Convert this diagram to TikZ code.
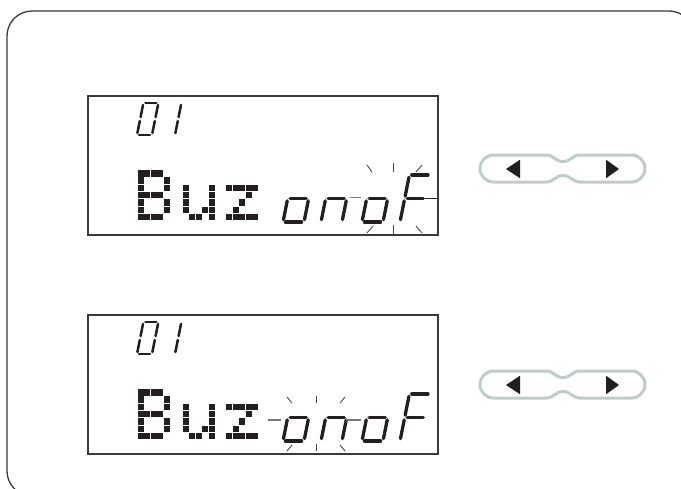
\documentclass[tikz,border=0pt]{standalone}
\definecolor{lcdblack}{HTML}{231F20}
\definecolor{framecol}{HTML}{3A3A3A}
\definecolor{pillcol}{HTML}{BFCCCA}
\definecolor{dashgray}{HTML}{7A7A7A}
\definecolor{raygray}{HTML}{4A4A4A}
\tikzset{
  seg/.style={draw=lcdblack, line width=3.3pt, line cap=round, shorten <=2.4pt, shorten >=2.4pt},
  segsmall/.style={draw=lcdblack, line width=2.5pt, line cap=round, shorten <=2pt, shorten >=2pt},
  boxline/.style={draw=framecol, line width=1.5pt},
  outerline/.style={draw=framecol, line width=1.3pt},
  ray/.style={draw=raygray, line width=0.9pt},
  dashline/.style={draw=dashgray, line width=1.3pt},
  pilline/.style={draw=pillcol, line width=3pt},
  arrowtri/.style={fill=lcdblack},
}
% seven-segment digit
\newcommand{\digitpos}[4]{%
  \coordinate (d00) at (#1,#2);
  \coordinate (d10) at ({#1+#3},#2);
  \coordinate (d01) at ({#1+0.1*#4},{#2-0.5*#4});
  \coordinate (d11) at ({#1+#3+0.1*#4},{#2-0.5*#4});
  \coordinate (d02) at ({#1+0.2*#4},{#2-#4});
  \coordinate (d12) at ({#1+#3+0.2*#4},{#2-#4});
}
\newcommand{\lsega}[1]{\draw[#1] (d02) -- (d12);}
\newcommand{\lsegb}[1]{\draw[#1] (d12) -- (d11);}
\newcommand{\lsegc}[1]{\draw[#1] (d11) -- (d10);}
\newcommand{\lsegd}[1]{\draw[#1] (d00) -- (d10);}
\newcommand{\lsege}[1]{\draw[#1] (d00) -- (d01);}
\newcommand{\lsegf}[1]{\draw[#1] (d01) -- (d02);}
\newcommand{\lsegg}[1]{\draw[#1] (d01) -- (d11);}
\newcommand{\lcddigit}[6]{%
  \digitpos{#1}{#2}{#3}{#4}%
  \foreach \s in {#6}{\csname lseg\s\endcsname{#5}}%
}
% dot-matrix character
\newcommand{\dotchar}[3]{%
  \foreach \c/\r in #3 {\fill[lcdblack] ({#1+\c*6.6},{#2+\r*7.3}) rectangle ++(6.0,6.5);}%
}
\newcommand{\Bcells}{0/0,1/0,2/0,3/0,0/1,4/1,0/2,4/2,0/3,1/3,2/3,3/3,0/4,4/4,0/5,4/5,0/6,1/6,2/6,3/6}
\newcommand{\ucells}{0/2,4/2,0/3,4/3,0/4,4/4,0/5,3/5,4/5,1/6,2/6,4/6}
\newcommand{\zcells}{0/2,1/2,2/2,3/2,4/2,3/3,2/4,1/5,0/6,1/6,2/6,3/6,4/6}
\newcommand{\pillshape}{%
  \draw[pilline] (493.5,155) -- (546,155)
    .. controls (554,155) and (555,161.5) .. (563,161.5)
    .. controls (571,161.5) and (572,155) .. (580,155)
    -- (631.5,155) arc[start angle=-90, end angle=90, radius=13.5]
    -- (580,182)
    .. controls (572,182) and (571,175.5) .. (563,175.5)
    .. controls (555,175.5) and (554,182) .. (546,182)
    -- (493.5,182) arc[start angle=90, end angle=270, radius=13.5] -- cycle;
  \fill[arrowtri] (506,169) -- (520,159.7) -- (520,178.3) -- cycle;
  \fill[arrowtri] (619,169) -- (606,159.7) -- (606,178.3) -- cycle;
}
\begin{document}
\begin{tikzpicture}[x=1pt,y=-1pt]
\useasboundingbox (0,0) rectangle (681,488);
\clip (0,0) rectangle (681,488);
\fill[white] (0,0) rectangle (681,488);
% outer frame
\draw[outerline, rounded corners=25pt] (7,11) rectangle (694,496);

% ---------- display 1 ----------
\draw[boxline] (88,96) rectangle (438,235);
\lcddigit{137}{135}{15}{32}{segsmall}{a,b,c,d,e,f}
\lcddigit{160}{135}{15}{32}{segsmall}{b,c}
\dotchar{137.5}{170}{\Bcells}
\dotchar{182.5}{170}{\ucells}
\dotchar{226}{170}{\zcells}
\lcddigit{283}{222}{21}{47}{seg}{c,d,e,g}
\lcddigit{321}{222}{21}{47}{seg}{c,e,g}
\draw[dashline] (350,197.5) -- (361,197.5);
\lcddigit{362}{222}{21}{47}{seg}{c,d,e,g}
\lcddigit{400}{222}{21}{47}{seg}{a,e,f,g}
\draw[draw=lcdblack, line width=1pt] (425,198.5) -- (438,198.5);
% blink rays
\draw[ray] (367,165) -- (372,172);
\draw[ray] (393,163) -- (393,172);
\draw[ray] (422,165) -- (416,172);
\draw[ray] (373,226) -- (367,233);
\draw[ray] (393,225) -- (393,234);
\draw[ray] (416,226) -- (422,233);

% ---------- display 2 ----------
\draw[boxline] (88,315) rectangle (438,454);
\lcddigit{137}{354}{15}{32}{segsmall}{a,b,c,d,e,f}
\lcddigit{160}{354}{15}{32}{segsmall}{b,c}
\dotchar{137.5}{389}{\Bcells}
\dotchar{182.5}{389}{\ucells}
\dotchar{226}{389}{\zcells}
\draw[dashline] (268,420) -- (281,420);
\lcddigit{283}{441}{21}{47}{seg}{c,d,e,g}
\lcddigit{321}{441}{21}{47}{seg}{c,e,g}
\draw[dashline] (346,420) -- (361,420);
\lcddigit{362}{441}{21}{47}{seg}{c,d,e,g}
\lcddigit{400}{441}{21}{47}{seg}{a,e,f,g}
% blink rays
\draw[ray] (287,397) -- (292,403);
\draw[ray] (316,396) -- (316,403);
\draw[ray] (345,397) -- (340,403);
\draw[ray] (292,445) -- (287,451);
\draw[ray] (316,444) -- (316,451);
\draw[ray] (340,445) -- (345,451);

% ---------- buttons ----------
\pillshape
\begin{scope}[shift={(0,216)}]
\pillshape
\end{scope}
\end{tikzpicture}
\end{document}
